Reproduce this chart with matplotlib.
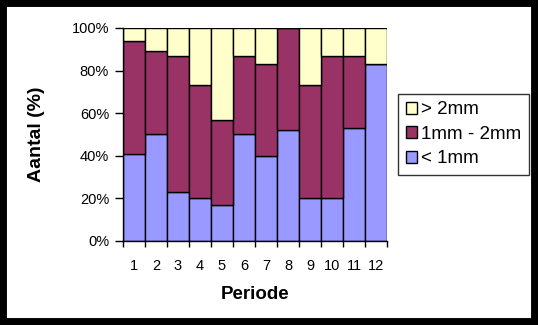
import matplotlib.pyplot as plt
from matplotlib.patches import Rectangle
import numpy as np

plt.rcParams['font.family'] = ['Liberation Sans', 'DejaVu Sans']

periods = [str(i) for i in range(1, 13)]
small = [41, 50, 23, 20, 17, 50, 40, 52, 20, 20, 53, 83]     # < 1mm
medium = [53, 39, 64, 53, 40, 37, 43, 48, 53, 67, 34, 0]     # 1mm - 2mm
large = [6, 11, 13, 27, 43, 13, 17, 0, 27, 13, 13, 17]       # > 2mm

fig = plt.figure(figsize=(5.38, 3.25), dpi=100)
ax = fig.add_axes([0.2286, 0.2585, 0.4907, 0.6554])

x = np.arange(len(periods))
small = np.array(small)
medium = np.array(medium)
large = np.array(large)
b1 = ax.bar(x, small, width=1.0, color='#9999FF', edgecolor='black', linewidth=1, label='< 1mm')
b2 = ax.bar(x, medium, width=1.0, bottom=small, color='#993366', edgecolor='black', linewidth=1, label='1mm - 2mm')
b3 = ax.bar(x, large, width=1.0, bottom=small + medium, color='#FFFFCC', edgecolor='black', linewidth=1, label='> 2mm')

ax.set_xlim(-0.5, len(periods) - 0.5)
ax.set_ylim(0, 100)
ax.set_yticks(range(0, 101, 20))
ax.set_yticklabels([f'{v}%' for v in range(0, 101, 20)])
ax.set_xticks(np.arange(-0.5, len(periods), 1.0))
ax.set_xticklabels([])
ax.set_xticks(x, minor=True)
ax.set_xticklabels(periods, minor=True)
ax.tick_params(axis='x', which='minor', length=0, pad=13, labelsize=10.5)
ax.tick_params(axis='x', which='major', length=4, direction='out', width=1)
ax.tick_params(axis='y', length=6, direction='out', width=1, labelsize=10.5, pad=4)

for s in ['top', 'right']:
    ax.spines[s].set_visible(False)
for s in ['left', 'bottom']:
    ax.spines[s].set_linewidth(1)

ax.set_xlabel('Periode', fontsize=13.5, fontweight='bold', labelpad=9)
ax.set_ylabel('Aantal (%)', fontsize=14, fontweight='bold', labelpad=19)

leg = fig.legend(handles=[b3, b2, b1], loc='upper left', bbox_to_anchor=(398 / 538, 1 - 94 / 325),
                 fontsize=13.5, frameon=True, fancybox=False, edgecolor='black',
                 handlelength=0.6, handleheight=0.6, handletextpad=0.25, borderpad=0.4,
                 labelspacing=0.4, borderaxespad=0)
leg.get_frame().set_linewidth(1)

fig.patches.append(Rectangle((0, 0), 1, 1, transform=fig.transFigure, fill=False,
                             edgecolor='black', linewidth=10))

fig.savefig('out.png', dpi=100)
